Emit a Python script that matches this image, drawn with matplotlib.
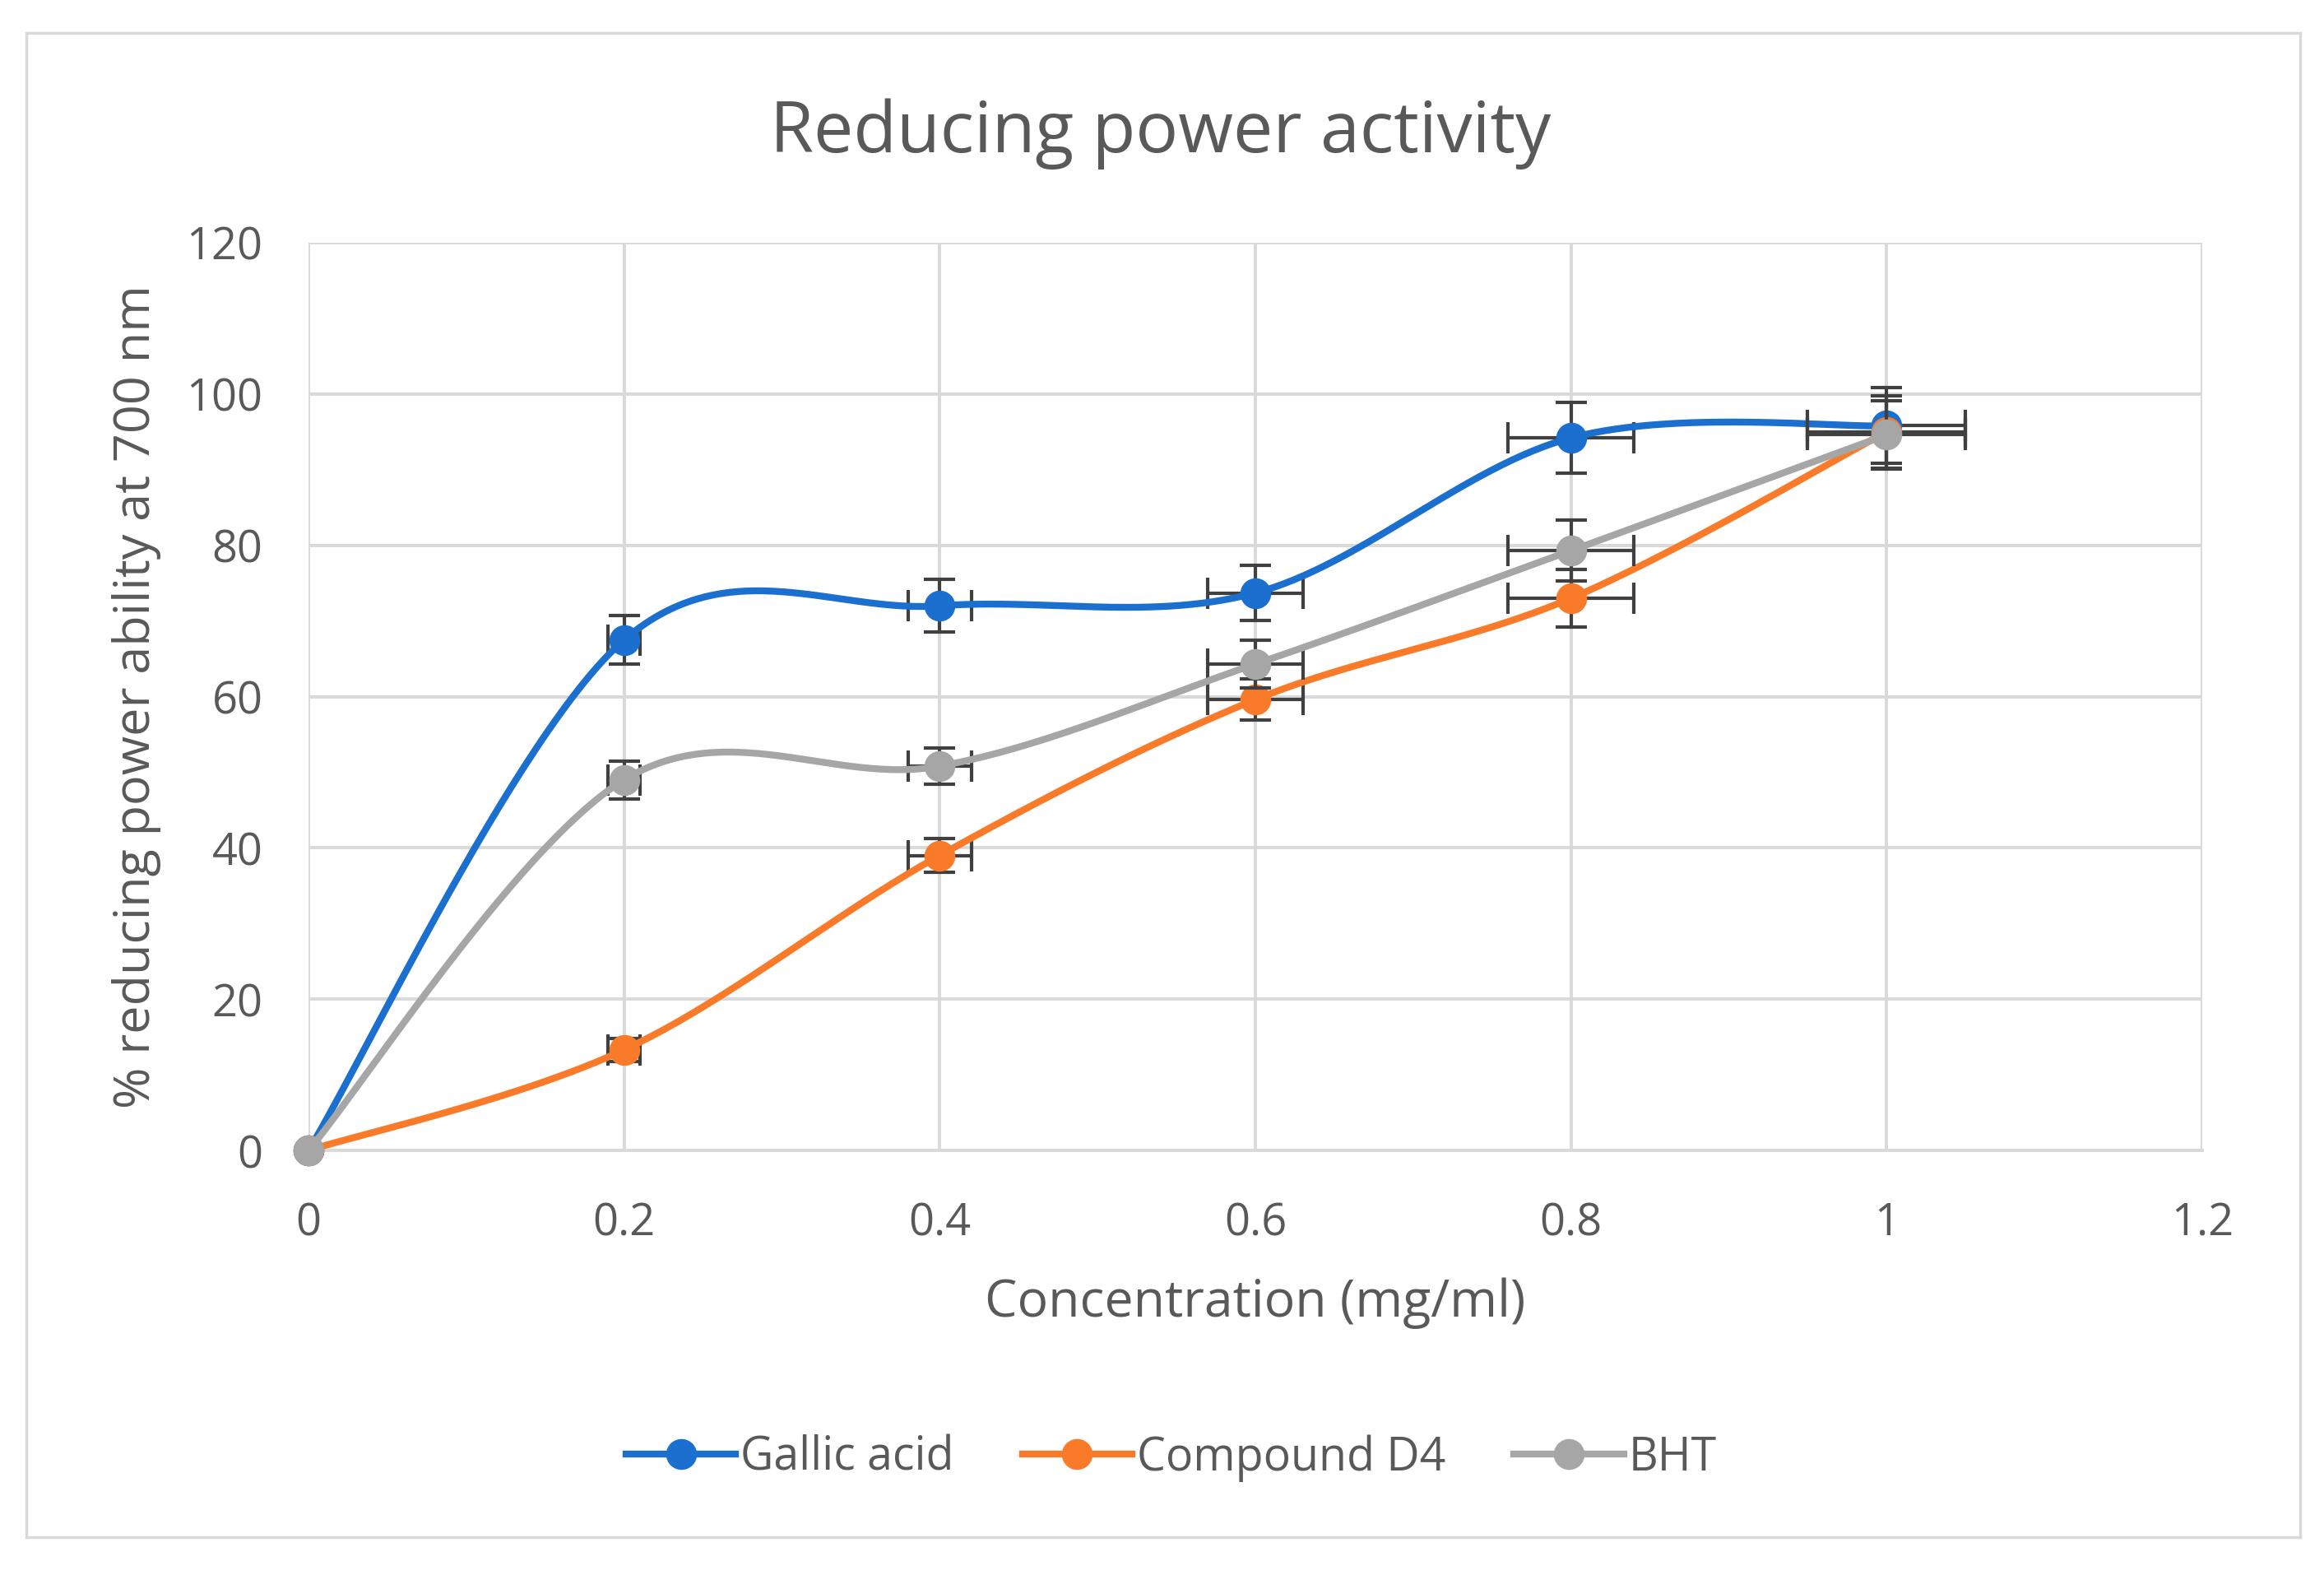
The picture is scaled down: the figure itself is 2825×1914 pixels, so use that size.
import numpy as np
import matplotlib
matplotlib.use('Agg')
import matplotlib.pyplot as plt
from matplotlib.lines import Line2D
from matplotlib.patches import Rectangle

conc = [0, 0.2, 0.4, 0.6, 0.8, 1.0]
x_err = [0, 0.01, 0.02, 0.03, 0.04, 0.05]
gallic = [0, 67.5, 72.0, 73.7, 94.2, 95.8]
gallic_err = [0, 3.2, 3.5, 3.6, 4.7, 5.0]
d4 = [0, 13.3, 39.0, 59.6, 73.0, 95.0]
d4_err = [0, 1.5, 2.2, 2.7, 3.8, 4.8]
bht = [0, 49.0, 50.8, 64.3, 79.3, 94.6]
bht_err = [0, 2.5, 2.4, 3.2, 4.0, 4.5]
series_names = ["Gallic acid", "Compound D4", "BHT"]
series_colors = ["#1a6fcf", "#f97b2a", "#a6a6a6"]

TXT = "#595959"
FONT = ["Open Sans", "DejaVu Sans"]
plt.rcParams['font.family'] = FONT


def smooth(xs, ys, n=60):
    pts = np.column_stack([xs, ys]).astype(float)
    P = np.vstack([pts[0], pts, pts[-1]])
    t = np.linspace(0, 1, n)[:, None]
    out = []
    for i in range(1, len(P) - 2):
        p0, p1, p2, p3 = P[i - 1], P[i], P[i + 1], P[i + 2]
        c1 = p1 + (p2 - p0) / 6.0
        c2 = p2 - (p3 - p1) / 6.0
        seg = ((1 - t) ** 3) * p1 + 3 * ((1 - t) ** 2) * t * c1 + 3 * (1 - t) * t ** 2 * c2 + t ** 3 * p2
        out.append(seg if i == 1 else seg[1:])
    c = np.vstack(out)
    return c[:, 0], c[:, 1]


fig = plt.figure(figsize=(28.25, 19.14), dpi=100)
fig.patches.append(Rectangle((32 / 2825, 1 - 1868 / 1914), (2796 - 32) / 2825, (1868 - 40) / 1914,
                             transform=fig.transFigure, fill=False, edgecolor="#d9d9d9", lw=2.5))
ax = fig.add_axes([375 / 2825, 1 - 1398 / 1914, (2677 - 375) / 2825, (1398 - 295) / 1914])

ax.set_xlim(0, 1.2)
ax.set_ylim(0, 120)
ax.set_xticks(np.arange(0, 1.21, 0.2))
ax.set_xticklabels(["0", "0.2", "0.4", "0.6", "0.8", "1", "1.2"])
ax.set_yticks(np.arange(0, 121, 20))
ax.grid(True, color="#d9d9d9", lw=2.8, zorder=0)
ax.set_axisbelow(True)
for s in ["top", "right", "left"]:
    ax.spines[s].set_visible(False)
ax.spines["bottom"].set_color("#d9d9d9")
ax.spines["bottom"].set_linewidth(2.8)
ax.tick_params(axis="both", length=0, labelsize=39, colors=TXT)
ax.tick_params(axis="x", pad=44)
ax.tick_params(axis="y", pad=40)

data = [(gallic, gallic_err), (d4, d4_err), (bht, bht_err)]
handles = []
for k, ((ys, ye), name, col) in enumerate(zip(data, series_names, series_colors)):
    z = 3 + 3 * k
    ax.errorbar(conc[1:], ys[1:], yerr=ye[1:], xerr=x_err[1:], fmt="none", ecolor="#404040",
                elinewidth=3.0, capsize=14, capthick=3.0, zorder=z)
    sx, sy = smooth(conc, ys)
    ax.plot(sx, sy, color=col, lw=6.0, zorder=z + 1, solid_capstyle="round", clip_on=False)
    ax.plot(conc, ys, "o", color=col, ms=26, zorder=z + 2, clip_on=False)
    handles.append(Line2D([0], [0], color=col, lw=6.0, marker="o", ms=26, label=name))

fig.text(0.4995, 1 - 163 / 1914, "Reducing power activity", ha="center", va="center",
         fontsize=62, color=TXT)
fig.text(1526 / 2825, 1 - 1584 / 1914, "Concentration (mg/ml)", ha="center", va="center",
         fontsize=45, color=TXT)
fig.text(166 / 2825, 1 - 847 / 1914, "% reducing power ability at 700 nm", ha="center", va="center",
         rotation=90, fontsize=44, color=TXT)

leg = fig.legend(handles=handles, loc="center", bbox_to_anchor=(0.504, 1 - 1772 / 1914), ncol=3,
                 frameon=False, fontsize=40, handlelength=2.4, handletextpad=0.1, columnspacing=1.5)
for t in leg.get_texts():
    t.set_color(TXT)

fig.savefig("out.png", dpi=100)
